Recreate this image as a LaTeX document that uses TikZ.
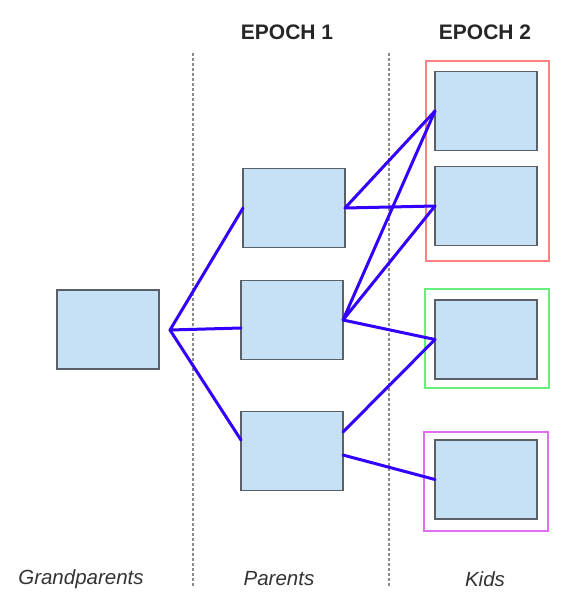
\documentclass[tikz,border=0pt]{standalone}
\usepackage{fontspec}
\setmainfont{Liberation Sans}
\usetikzlibrary{positioning}
\definecolor{boxfill}{HTML}{C6E0F5}
\definecolor{boxline}{HTML}{5A6068}
\definecolor{linkcol}{HTML}{3300FF}
\definecolor{redframe}{HTML}{FF8080}
\definecolor{greenframe}{HTML}{66F07A}
\definecolor{magframe}{HTML}{E070F0}
\definecolor{divcol}{HTML}{8A8A8A}
\tikzset{
  box/.style={draw=boxline, fill=boxfill, line width=1.3pt, minimum width=102pt, minimum height=79pt, inner sep=0pt, outer sep=0pt},
  link/.style={draw=linkcol, line width=3pt, line join=round, line cap=round},
  frame/.style={line width=1.5pt},
  divider/.style={draw=divcol, line width=1.3pt, dash pattern=on 3pt off 2pt},
  epoch/.style={font=\fontsize{21}{24}\selectfont\bfseries, text=black!85},
  caption/.style={font=\fontsize{20.5}{24}\selectfont\itshape, text=black!80}
}
\begin{document}
\begin{tikzpicture}[x=1pt,y=-1pt]
\useasboundingbox (0,0) rectangle (570,606);
% dividers
\coordinate (d1t) at (193,53); \coordinate (d1b) at (193,587);
\coordinate (d2t) at (389,53); \coordinate (d2b) at (389,587);
\draw[divider] (d1t) -- (d1b);
\draw[divider] (d2t) -- (d2b);
% headings and captions
\node[epoch] (e1) at (287,32) {EPOCH 1};
\node[epoch] (e2) at (485,32) {EPOCH 2};
\node[caption] (cg) at (81,579) {Grandparents};
\node[caption] (cp) at (279,579) {Parents};
\node[caption] (ck) at (485,579) {Kids};
% frames
\draw[frame, draw=redframe] (426,61) rectangle (549,261);
\draw[frame, draw=greenframe] (425,289) rectangle (549,388);
\draw[frame, draw=magframe] (424,432) rectangle (548,531);
% boxes
\node[box] (gp) at (108,329.5) {};
\node[box] (p1) at (294,208) {};
\node[box] (p2) at (292,320) {};
\node[box] (p3) at (292,451) {};
\node[box] (k1) at (486,111) {};
\node[box] (k2) at (486,206) {};
\node[box] (k3) at (486,339.5) {};
\node[box] (k4) at (486,479.5) {};
% junction
\coordinate (j) at (170,330);
\draw[link] (p1.west) -- (j) -- ([yshift=-8pt]p2.west);
\draw[link] (j) -- ([yshift=11pt]p3.west);
\draw[link] (k1.west) -- (p1.east) -- (k2.west);
\draw[link] (k1.west) -- (p2.east) -- (k2.west);
\draw[link] (p2.east) -- (k3.west);
\draw[link] ([yshift=19pt]p3.east) -- (k3.west);
\draw[link] ([yshift=-4pt]p3.east) -- (k4.west);
\end{tikzpicture}
\end{document}
